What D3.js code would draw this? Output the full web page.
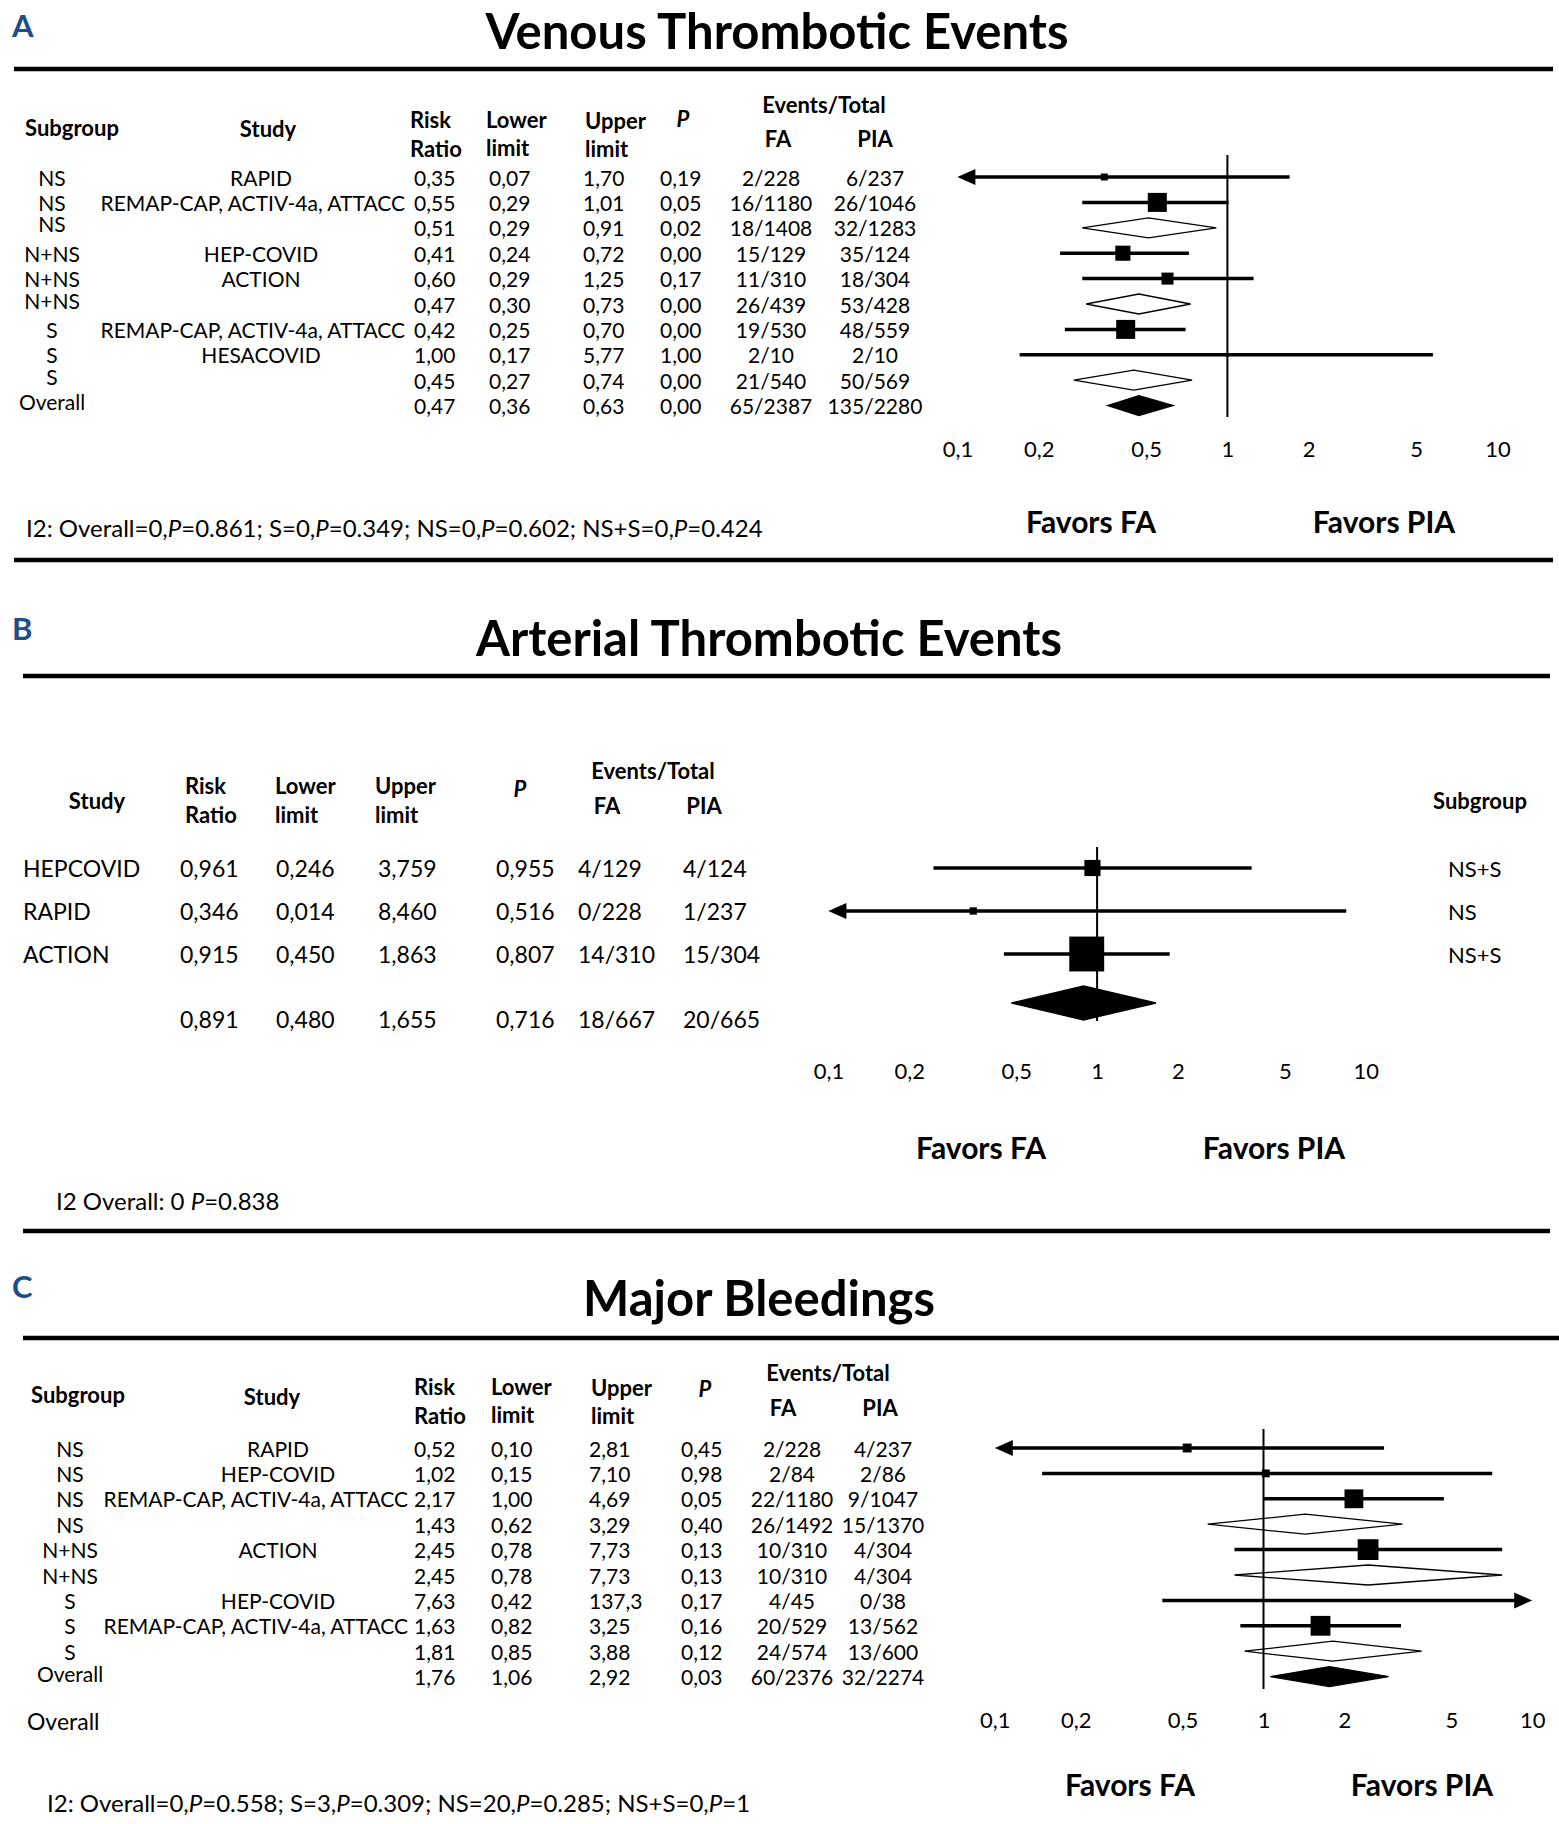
<!DOCTYPE html>
<html><head><meta charset="utf-8">
<script src="https://cdn.jsdelivr.net/npm/d3@7"></script>
<style>
body{margin:0;background:#fff;}
svg text{font-family:Lato,"Open Sans","DejaVu Sans",sans-serif;fill:#000;}
</style></head><body>
<script>
// ---------- Panel A: Venous Thrombotic Events ----------
const venSubgroup = ["NS","NS","NS","N+NS","N+NS","N+NS","S","S","S","Overall"];
const venStudy = ["RAPID","REMAP-CAP, ACTIV-4a, ATTACC","","HEP-COVID","ACTION","","REMAP-CAP, ACTIV-4a, ATTACC","HESACOVID","",""];
const venKind = ["study","study","subtotal","study","study","subtotal","study","study","subtotal","overall"];
const venRR    = [0.35,0.55,0.51,0.41,0.60,0.47,0.42,1.00,0.45,0.47];
const venLower = [0.07,0.29,0.29,0.24,0.29,0.30,0.25,0.17,0.27,0.36];
const venUpper = [1.70,1.01,0.91,0.72,1.25,0.73,0.70,5.77,0.74,0.63];
const venP     = [0.19,0.05,0.02,0.00,0.17,0.00,0.00,1.00,0.00,0.00];
const venFA  = ["2/228","16/1180","18/1408","15/129","11/310","26/439","19/530","2/10","21/540","65/2387"];
const venPIA = ["6/237","26/1046","32/1283","35/124","18/304","53/428","48/559","2/10","50/569","135/2280"];
const venWeight = [4,30,null,19,12,null,30,1,null,null];
const venI2 = "I2: Overall=0,P=0.861; S=0,P=0.349; NS=0,P=0.602; NS+S=0,P=0.424";

// ---------- Panel B: Arterial Thrombotic Events ----------
const artStudy = ["HEPCOVID","RAPID","ACTION",""];
const artKind  = ["study","study","study","overall"];
const artRR    = [0.961,0.346,0.915,0.891];
const artLower = [0.246,0.014,0.450,0.480];
const artUpper = [3.759,8.460,1.863,1.655];
const artP     = [0.955,0.516,0.807,0.716];
const artFA  = ["4/129","0/228","14/310","18/667"];
const artPIA = ["4/124","1/237","15/304","20/665"];
const artSubgroup = ["NS+S","NS","NS+S",""];
const artWeight = [17,3.5,79.5,null];
const artI2 = "I2 Overall: 0 P=0.838";

// ---------- Panel C: Major Bleedings ----------
const bleSubgroup = ["NS","NS","NS","NS","N+NS","N+NS","S","S","S","Overall"];
const bleStudy = ["RAPID","HEP-COVID","REMAP-CAP, ACTIV-4a, ATTACC","","ACTION","","HEP-COVID","REMAP-CAP, ACTIV-4a, ATTACC","",""];
const bleKind = ["study","study","study","subtotal","study","subtotal","study","study","subtotal","overall"];
const bleRR    = [0.52,1.02,2.17,1.43,2.45,2.45,7.63,1.63,1.81,1.76];
const bleLower = [0.10,0.15,1.00,0.62,0.78,0.78,0.42,0.82,0.85,1.06];
const bleUpper = [2.81,7.10,4.69,3.29,7.73,7.73,137.3,3.25,3.88,2.92];
const bleP     = [0.45,0.98,0.05,0.40,0.13,0.13,0.17,0.16,0.12,0.03];
const bleFA  = ["2/228","2/84","22/1180","26/1492","10/310","10/310","4/45","20/529","24/574","60/2376"];
const blePIA = ["4/237","2/86","9/1047","15/1370","4/304","4/304","0/38","13/562","13/600","32/2274"];
const bleWeight = [18,14,80,null,98,null,1,89,null,null];
const bleI2 = "I2: Overall=0,P=0.558; S=3,P=0.309; NS=20,P=0.285; NS+S=0,P=1";

// ---------- shared axis ----------
const tickValues = [0.1,0.2,0.5,1,2,5,10];
const tickLabels = ["0,1","0,2","0,5","1","2","5","10"];

const svg = d3.select("body").append("svg").attr("width",1559).attr("height",1824);
const fmt2 = v => (v >= 100 ? d3.format(".1f")(v) : d3.format(".2f")(v)).replace(".", ",");
const fmt3 = v => d3.format(".3f")(v).replace(".", ",");

function T(g,x,y,s,o={}){
  return g.append("text").attr("x",x).attr("y",y)
    .attr("text-anchor",o.anchor||"start")
    .attr("dominant-baseline",o.base||"central")
    .attr("font-size",o.size||21)
    .attr("font-weight",o.bold?"bold":"normal")
    .attr("font-style",o.italic?"italic":"normal")
    .style("fill",o.fill||"#000").text(s);
}
function rule(x1,x2,y,w){
  svg.append("line").attr("x1",x1).attr("x2",x2).attr("y1",y).attr("y2",y)
    .attr("stroke","#000").attr("stroke-width",w);
}
function richI2(x,y,s,size){
  const t=svg.append("text").attr("x",x).attr("y",y).attr("dominant-baseline","central").attr("font-size",size);
  s.split(/(P(?==))/).forEach(part=>{ if(part!=="") t.append("tspan").attr("font-style",part==="P"?"italic":"normal").text(part); });
}
function forest(x, n, rr, lo, hi, kind, w, yOf, o){
  const g=svg.append("g");
  const [dmin,dmax]=x.domain();
  const sq=d3.scaleSqrt().domain([0,o.wMax]).range([0,o.sMax]);
  for(let i=0;i<n;i++){
    const y=yOf(i);
    if(kind[i]==="study"){
      const x1=x(Math.max(lo[i],dmin)), x2=x(Math.min(hi[i],dmax));
      const la=lo[i]<=dmin, ra=hi[i]>=dmax;
      g.append("line").attr("x1",la?x1+10:x1).attr("x2",ra?x2-10:x2).attr("y1",y).attr("y2",y)
        .attr("stroke","#000").attr("stroke-width",3.5);
      if(la) g.append("path").attr("d",`M${x1},${y}L${x1+18},${y-8}L${x1+18},${y+8}Z`).attr("fill","#000");
      if(ra) g.append("path").attr("d",`M${x2},${y}L${x2-18},${y-8}L${x2-18},${y+8}Z`).attr("fill","#000");
      const s=sq(w[i]);
      g.append("rect").attr("x",x(rr[i])-s/2).attr("y",y-s/2).attr("width",s).attr("height",s).attr("fill","#000");
    } else {
      const h = kind[i]==="overall" ? o.hOverall : o.hSub;
      g.append("path").attr("d",`M${x(lo[i])},${y}L${x(rr[i])},${y-h}L${x(hi[i])},${y}L${x(rr[i])},${y+h}Z`)
        .attr("fill",kind[i]==="overall"?"#000":"#fff").attr("stroke","#000").attr("stroke-width",1.3);
    }
  }
  g.append("line").attr("x1",x(1)).attr("x2",x(1)).attr("y1",o.vTop).attr("y2",o.vBot)
    .attr("stroke","#000").attr("stroke-width",2);
  const ax=svg.append("g").attr("transform",`translate(0,${o.tickY})`)
    .call(d3.axisBottom(x).tickValues(tickValues).tickFormat((d,i)=>tickLabels[i]).tickSize(0));
  ax.select(".domain").remove();
  ax.selectAll("text").attr("y",0).attr("dy","0.35em").attr("font-size",22);
}
function placeStudy(g,cx,limit,y,s,size){
  const t=T(g,cx,y,s,{anchor:"middle",size});
  const wdt=t.node().getComputedTextLength();
  if(cx+wdt/2>limit) t.attr("x",limit-wdt/2);
}
const blue="#1d4e89";
const TS=49, FS=30, HS=22, IS=24;

// ================= PANEL A =================
{
  const g=svg.append("g");
  T(g,12,37,"A",{base:"alphabetic",size:31,bold:true,fill:blue});
  T(g,777,49,"Venous Thrombotic Events",{base:"alphabetic",size:TS,bold:true,anchor:"middle"});
  rule(14,1553,69,4.5);
  T(g,72,127,"Subgroup",{anchor:"middle",bold:true,size:HS});
  T(g,268,128,"Study",{anchor:"middle",bold:true,size:HS});
  T(g,410,119,"Risk",{bold:true,size:HS}); T(g,410,148,"Ratio",{bold:true,size:HS});
  T(g,486,119,"Lower",{bold:true,size:HS}); T(g,486,147,"limit",{bold:true,size:HS});
  T(g,585,120,"Upper",{bold:true,size:HS}); T(g,585,148,"limit",{bold:true,size:HS});
  T(g,683,118,"P",{anchor:"middle",bold:true,italic:true,size:HS});
  T(g,824,104,"Events/Total",{anchor:"middle",bold:true,size:HS});
  T(g,778,138,"FA",{anchor:"middle",bold:true,size:HS});
  T(g,875,138,"PIA",{anchor:"middle",bold:true,size:HS});
  const yOf=i=>177+i*25.4;
  venRR.forEach((v,i)=>{
    const y=yOf(i);
    T(g,52,y-(venKind[i]==="study"?0:4),venSubgroup[i],{anchor:"middle"});
    if(venStudy[i]) placeStudy(g,261,405,y,venStudy[i],21);
    T(g,414,y,fmt2(venRR[i])); T(g,489,y,fmt2(venLower[i])); T(g,583,y,fmt2(venUpper[i])); T(g,660,y,fmt2(venP[i]));
    T(g,771,y,venFA[i],{anchor:"middle"}); T(g,875,y,venPIA[i],{anchor:"middle"});
  });
  const x=d3.scaleLog().domain([0.1,10]).range([957.4,1497.4]);
  forest(x,venRR.length,venRR,venLower,venUpper,venKind,venWeight,yOf,{wMax:30,sMax:19,hSub:10,hOverall:10,vTop:155,vBot:417,tickY:449});
  T(g,1091,521,"Favors FA",{anchor:"middle",bold:true,size:FS});
  T(g,1384,521,"Favors PIA",{anchor:"middle",bold:true,size:FS});
  richI2(26,527,venI2,IS);
  rule(14,1553,560,4.5);
}

// ================= PANEL B =================
{
  const g=svg.append("g");
  T(g,12,640,"B",{base:"alphabetic",size:31,bold:true,fill:blue});
  T(g,769,656,"Arterial Thrombotic Events",{base:"alphabetic",size:TS,bold:true,anchor:"middle"});
  rule(23,1550,676,4.5);
  T(g,97,800,"Study",{anchor:"middle",bold:true,size:HS});
  T(g,185,785,"Risk",{bold:true,size:HS}); T(g,185,814,"Ratio",{bold:true,size:HS});
  T(g,275,785,"Lower",{bold:true,size:HS}); T(g,275,814,"limit",{bold:true,size:HS});
  T(g,375,785,"Upper",{bold:true,size:HS}); T(g,375,814,"limit",{bold:true,size:HS});
  T(g,520,788,"P",{anchor:"middle",bold:true,italic:true,size:HS});
  T(g,653,770,"Events/Total",{anchor:"middle",bold:true,size:HS});
  T(g,607,805,"FA",{anchor:"middle",bold:true,size:HS});
  T(g,704,805,"PIA",{anchor:"middle",bold:true,size:HS});
  T(g,1480,800,"Subgroup",{anchor:"middle",bold:true,size:HS});
  const yText=i=>artKind[i]==="overall"?1019:868+i*43;
  const yMark=i=>artKind[i]==="overall"?1003:868+i*43;
  const s=23;
  artRR.forEach((v,i)=>{
    const y=yText(i);
    if(artStudy[i]) T(g,23,y,artStudy[i],{size:s});
    T(g,180,y,fmt3(artRR[i]),{size:s}); T(g,276,y,fmt3(artLower[i]),{size:s}); T(g,378,y,fmt3(artUpper[i]),{size:s});
    T(g,496,y,fmt3(artP[i]),{size:s}); T(g,578,y,artFA[i],{size:s}); T(g,683,y,artPIA[i],{size:s});
    if(artSubgroup[i]) T(g,1448,y,artSubgroup[i],{size:22});
  });
  const x=d3.scaleLog().domain([0.1,10]).range([828.4,1365.8]);
  forest(x,artRR.length,artRR,artLower,artUpper,artKind,artWeight,yMark,{wMax:80,sMax:35,hSub:16,hOverall:17,vTop:847,vBot:1021,tickY:1071});
  T(g,981,1147,"Favors FA",{anchor:"middle",bold:true,size:FS});
  T(g,1274,1147,"Favors PIA",{anchor:"middle",bold:true,size:FS});
  richI2(56,1200,artI2,IS);
  rule(23,1550,1231,4.5);
}

// ================= PANEL C =================
{
  const g=svg.append("g");
  T(g,12,1298,"C",{base:"alphabetic",size:31,bold:true,fill:blue});
  T(g,759,1316,"Major Bleedings",{base:"alphabetic",size:TS,bold:true,anchor:"middle"});
  rule(23,1559,1338,4.5);
  T(g,78,1394,"Subgroup",{anchor:"middle",bold:true,size:HS});
  T(g,272,1396,"Study",{anchor:"middle",bold:true,size:HS});
  T(g,414,1386,"Risk",{bold:true,size:HS}); T(g,414,1415,"Ratio",{bold:true,size:HS});
  T(g,491,1386,"Lower",{bold:true,size:HS}); T(g,491,1414,"limit",{bold:true,size:HS});
  T(g,591,1387,"Upper",{bold:true,size:HS}); T(g,591,1415,"limit",{bold:true,size:HS});
  T(g,705,1388,"P",{anchor:"middle",bold:true,italic:true,size:HS});
  T(g,828,1372,"Events/Total",{anchor:"middle",bold:true,size:HS});
  T(g,783,1407,"FA",{anchor:"middle",bold:true,size:HS});
  T(g,880,1407,"PIA",{anchor:"middle",bold:true,size:HS});
  const yOf=i=>1448+i*25.4;
  bleRR.forEach((v,i)=>{
    const y=yOf(i);
    T(g,70,y-(bleKind[i]==="overall"?3:0),bleSubgroup[i],{anchor:"middle"});
    if(bleStudy[i]) placeStudy(g,278,408,y,bleStudy[i],21);
    T(g,414,y,fmt2(bleRR[i])); T(g,491,y,fmt2(bleLower[i])); T(g,589,y,fmt2(bleUpper[i])); T(g,681,y,fmt2(bleP[i]));
    T(g,792,y,bleFA[i],{anchor:"middle"}); T(g,883,y,blePIA[i],{anchor:"middle"});
  });
  const x=d3.scaleLog().domain([0.1,10]).range([994.8,1532.2]);
  forest(x,bleRR.length,bleRR,bleLower,bleUpper,bleKind,bleWeight,yOf,{wMax:100,sMax:21,hSub:10,hOverall:10,vTop:1429,vBot:1689,tickY:1720});
  T(g,27,1721,"Overall",{size:23});
  T(g,1130,1784,"Favors FA",{anchor:"middle",bold:true,size:FS});
  T(g,1422,1784,"Favors PIA",{anchor:"middle",bold:true,size:FS});
  richI2(47,1802,bleI2,IS);
}
</script>
</body></html>
